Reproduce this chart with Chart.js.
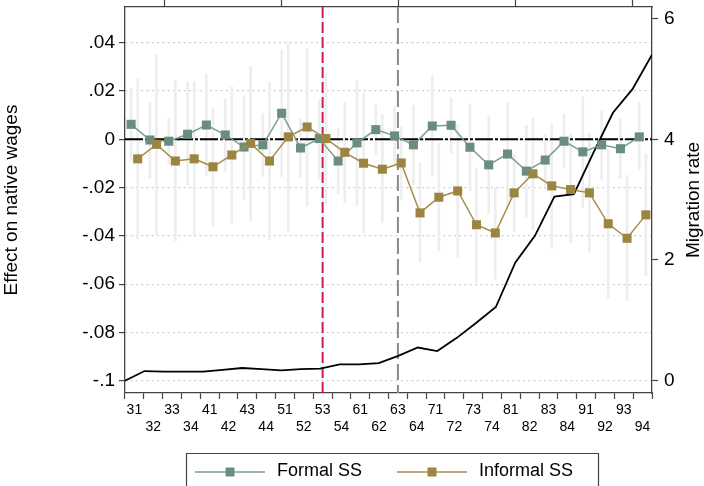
<!DOCTYPE html>
<html>
<head>
<meta charset="utf-8">
<title>Effect on native wages</title>
<script src="https://cdn.jsdelivr.net/npm/chart.js@4/dist/chart.umd.min.js"></script>
<style>
  html, body { margin: 0; padding: 0; background: #fff; overflow: hidden; }
  canvas { display: block; }
</style>
</head>
<body>
<canvas id="chart" width="704" height="486"></canvas>
<script>
// categories along the bottom axis
const categories = ['31','32','33','34','41','42','43','44','51','52','53','54','61','62',
                    '63','64','71','72','73','74','81','82','83','84','91','92','93','94'];

// point estimates
const formal = [0.0062, -0.0003, -0.0008, 0.0021, 0.0059, 0.0018, -0.0032, -0.0023, 0.0108, -0.0036,
                0.0003, -0.0090, -0.0015, 0.0040, 0.0014, -0.0023, 0.0055, 0.0058, -0.0033, -0.0106,
                -0.0061, -0.0132, -0.0086, -0.0008, -0.0052, -0.0023, -0.0039, 0.0010];
const informal = [-0.0081, -0.0021, -0.0090, -0.0081, -0.0114, -0.0065, -0.0017, -0.0090, 0.0010, 0.0051,
                  0.0003, -0.0054, -0.0099, -0.0124, -0.0098, -0.0305, -0.0240, -0.0214, -0.0354, -0.0388,
                  -0.0222, -0.0143, -0.0193, -0.0208, -0.0222, -0.0350, -0.0410, -0.0313];

// confidence intervals
const formalHi = [0.0211, 0.0154, 0.0087, 0.0237, 0.0269, 0.0168, 0.0181, 0.0108, 0.0368, 0.0086,
                  0.0165, 0.0048, 0.0244, 0.0145, 0.0135, 0.0141, 0.0265, 0.0171, 0.0148, 0.0095,
                  0.0152, 0.0058, 0.0021, 0.0103, 0.0177, 0.0121, 0.0087, 0.0152];
const formalLo = [-0.0087, -0.0163, -0.0103, -0.0189, -0.0148, -0.0131, -0.0248, -0.0154, -0.0154, -0.0159,
                  -0.0165, -0.0225, -0.0274, -0.0066, -0.0110, -0.0189, -0.0154, -0.0058, -0.0214, -0.0306,
                  -0.0274, -0.0321, -0.0193, -0.0119, -0.0283, -0.0168, -0.0163, -0.0124];
const informalHi = [0.0251, 0.0352, 0.0244, 0.0237, 0.0131, 0.0217, 0.0303, 0.0237, 0.0401, 0.0376,
                    0.0276, 0.0153, 0.0190, 0.0101, 0.0052, -0.0099, -0.0017, 0.0062, -0.0120, -0.0200,
                    -0.0062, 0.0087, 0.0065, 0.0021, 0.0025, -0.0043, -0.0150, -0.0059];
const informalLo = [-0.0414, -0.0397, -0.0421, -0.0397, -0.0359, -0.0346, -0.0339, -0.0416, -0.0386, -0.0276,
                    -0.0270, -0.0263, -0.0389, -0.0346, -0.0248, -0.0510, -0.0462, -0.0491, -0.0593, -0.0579,
                    -0.0382, -0.0374, -0.0450, -0.0428, -0.0469, -0.0658, -0.0669, -0.0565];

// migration rate (right axis), one value per period on the top axis
const migration = [0.00, 0.16, 0.15, 0.15, 0.15, 0.18, 0.21, 0.19, 0.17, 0.19, 0.20, 0.27, 0.27, 0.29,
                   0.41, 0.55, 0.49, 0.71, 0.96, 1.22, 1.96, 2.40, 3.05, 3.09, 3.78, 4.44, 4.83, 5.40];

const yTicks = [-0.1, -0.08, -0.06, -0.04, -0.02, 0, 0.02, 0.04];
const rateTicks = [0, 2, 4, 6];
const topTicks = [2, 8, 14, 20, 26];
const redLineAt = 10;   // 53
const greyLineAt = 14;  // 63

const FONT = "'Liberation Sans', Arial, Helvetica, sans-serif";
Chart.defaults.font.family = FONT;
Chart.defaults.color = '#000';

const yMin = -0.1051, yMax = 0.0548;
const shift = 0.175;

const formalColor = '#6a8d80', formalLine = '#7b9e91';
const informalColor = '#9b8541', informalLine = '#a48e4c';
const ciColor = '#eeeeee';

const fmt = v => {
  if (Math.abs(v) < 1e-9) return '0';
  return v.toFixed(2).replace(/0+$/, '').replace('0.', '.');
};

// no extra room for edge tick labels
const noPad = s => { s.paddingTop = 0; s.paddingBottom = 0; s.paddingLeft = 0; s.paddingRight = 0; };

const refLines = {
  id: 'refLines',
  afterDatasetDraw(chart, args) {
    if (args.index !== 4) return;
    const { ctx, chartArea: a, scales } = chart;
    ctx.save();
    const y0 = scales.y.getPixelForValue(0);
    ctx.strokeStyle = '#000';
    ctx.lineWidth = 2;
    ctx.setLineDash([18, 2, 3, 2]);
    ctx.beginPath(); ctx.moveTo(a.left, y0); ctx.lineTo(a.right, y0); ctx.stroke();

    const xr = scales.x.getPixelForValue(redLineAt);
    ctx.strokeStyle = '#cf1d48';
    ctx.lineWidth = 2;
    ctx.setLineDash([11, 4]);
    ctx.beginPath(); ctx.moveTo(xr, a.top); ctx.lineTo(xr, a.bottom); ctx.stroke();

    const xg = scales.x.getPixelForValue(greyLineAt);
    ctx.strokeStyle = '#8a8a8a';
    ctx.lineWidth = 2;
    ctx.setLineDash([16, 5]);
    ctx.beginPath(); ctx.moveTo(xg, a.top); ctx.lineTo(xg, a.bottom); ctx.stroke();
    ctx.restore();
  }
};

const extras = {
  id: 'extras',
  afterDraw(chart) {
    const { ctx, chartArea: a } = chart;
    ctx.save();
    // right axis title, reading bottom to top
    ctx.translate(694, (a.top + a.bottom) / 2);
    ctx.rotate(-Math.PI / 2);
    ctx.font = '19px ' + FONT;
    ctx.fillStyle = '#000';
    ctx.textAlign = 'center';
    ctx.textBaseline = 'middle';
    ctx.fillText('Migration rate', 0, 0);
    ctx.restore();

    // legend box
    ctx.save();
    ctx.strokeStyle = '#444';
    ctx.lineWidth = 1.2;
    ctx.beginPath();
    ctx.moveTo(186.5, 490); ctx.lineTo(186.5, 453.5); ctx.lineTo(598.5, 453.5); ctx.lineTo(598.5, 490);
    ctx.stroke();
    const items = [{ ds: 0, x: 195 }, { ds: 1, x: 397 }];
    items.forEach(it => {
      const d = chart.data.datasets[it.ds];
      ctx.strokeStyle = d.borderColor;
      ctx.lineWidth = 1.5;
      ctx.beginPath(); ctx.moveTo(it.x, 472); ctx.lineTo(it.x + 70, 472); ctx.stroke();
      ctx.fillStyle = d.pointBackgroundColor;
      ctx.fillRect(it.x + 30.5, 467.5, 9, 9);
      ctx.fillStyle = '#000';
      ctx.font = '18px ' + FONT;
      ctx.textBaseline = 'middle';
      ctx.fillText(d.label, it.x + 82, 471);
    });
    ctx.restore();
  }
};

new Chart(document.getElementById('chart'), {
  type: 'line',
  data: {
    datasets: [
      {
        label: 'Formal SS',
        data: formal.map((v, i) => ({ x: i - shift, y: v })),
        borderColor: formalLine, borderWidth: 1.5,
        pointStyle: 'rect', pointRadius: 6.4, pointBorderWidth: 0,
        pointBackgroundColor: formalColor,
        xAxisID: 'x', yAxisID: 'y', order: 2
      },
      {
        label: 'Informal SS',
        data: informal.map((v, i) => ({ x: i + shift, y: v })),
        borderColor: informalLine, borderWidth: 1.5,
        pointStyle: 'rect', pointRadius: 6.4, pointBorderWidth: 0,
        pointBackgroundColor: informalColor,
        xAxisID: 'x', yAxisID: 'y', order: 1
      },
      {
        label: 'Migration rate',
        data: migration.map((v, i) => ({ x: i, y: v })),
        borderColor: '#000', borderWidth: 1.8, pointRadius: 0,
        xAxisID: 'x2', yAxisID: 'y1', order: 3
      },
      {
        type: 'bar',
        label: 'Formal CI',
        data: formal.map((v, i) => ({ x: i - shift, y: [formalLo[i], formalHi[i]] })),
        backgroundColor: ciColor, borderWidth: 0, barThickness: 2, grouped: false,
        xAxisID: 'x', yAxisID: 'y', order: 11
      },
      {
        type: 'bar',
        label: 'Informal CI',
        data: informal.map((v, i) => ({ x: i + shift, y: [informalLo[i], informalHi[i]] })),
        backgroundColor: ciColor, borderWidth: 0, barThickness: 2, grouped: false,
        xAxisID: 'x', yAxisID: 'y', order: 10
      }
    ]
  },
  options: {
    responsive: false,
    devicePixelRatio: 1,
    animation: false,
    events: [],
    layout: { padding: 0 },
    plugins: { legend: { display: false }, tooltip: { enabled: false } },
    scales: {
      x: {
        type: 'linear', position: 'bottom', min: -0.5, max: 27.5, offset: false,
        afterBuildTicks: s => { s.ticks = categories.map((c, i) => ({ value: i })); },
        afterFit: s => { noPad(s); s.height = 93; },
        ticks: {
          autoSkip: false, maxRotation: 0, minRotation: 0, padding: 3,
          font: { size: 14 }, color: '#000',
          callback: v => {
            const i = Math.round(v);
            return i % 2 === 0 ? categories[i] : ['', categories[i]];
          }
        },
        grid: { drawOnChartArea: false, tickLength: 6, tickColor: '#444', tickWidth: 1.2 },
        border: { color: '#444', width: 1.3 }
      },
      x2: {
        type: 'linear', position: 'top', min: 0, max: 27, offset: false,
        afterBuildTicks: s => { s.ticks = topTicks.map(v => ({ value: v })); },
        afterFit: s => { noPad(s); s.height = 7; },
        ticks: { display: false },
        grid: { drawOnChartArea: false, tickLength: 7, tickColor: '#444', tickWidth: 1.2 },
        border: { color: '#444', width: 1.3 }
      },
      y: {
        type: 'linear', position: 'left', min: yMin, max: yMax,
        afterBuildTicks: s => { s.ticks = yTicks.map(v => ({ value: v })); },
        afterFit: s => { noPad(s); s.width = 125; },
        ticks: { font: { size: 19 }, color: '#000', padding: 4, callback: fmt },
        grid: { color: '#cdcdcd', lineWidth: 1.2, tickLength: 6, tickColor: '#444', tickWidth: 1.2 },
        border: { color: '#444', width: 1.3, dash: [2, 3.3] },
        title: { display: true, text: 'Effect on native wages', font: { size: 19 }, color: '#000', padding: 0 }
      },
      y1: {
        type: 'linear', position: 'right', min: 4 + 40 * yMin, max: 4 + 40 * yMax,
        afterBuildTicks: s => { s.ticks = rateTicks.map(v => ({ value: v })); },
        afterFit: s => { noPad(s); s.width = 52; },
        ticks: { font: { size: 19 }, color: '#000', padding: 6 },
        grid: { drawOnChartArea: false, tickLength: 6, tickColor: '#444', tickWidth: 1.2 },
        border: { color: '#444', width: 1.3 }
      }
    }
  },
  plugins: [refLines, extras]
});
</script>
</body>
</html>
